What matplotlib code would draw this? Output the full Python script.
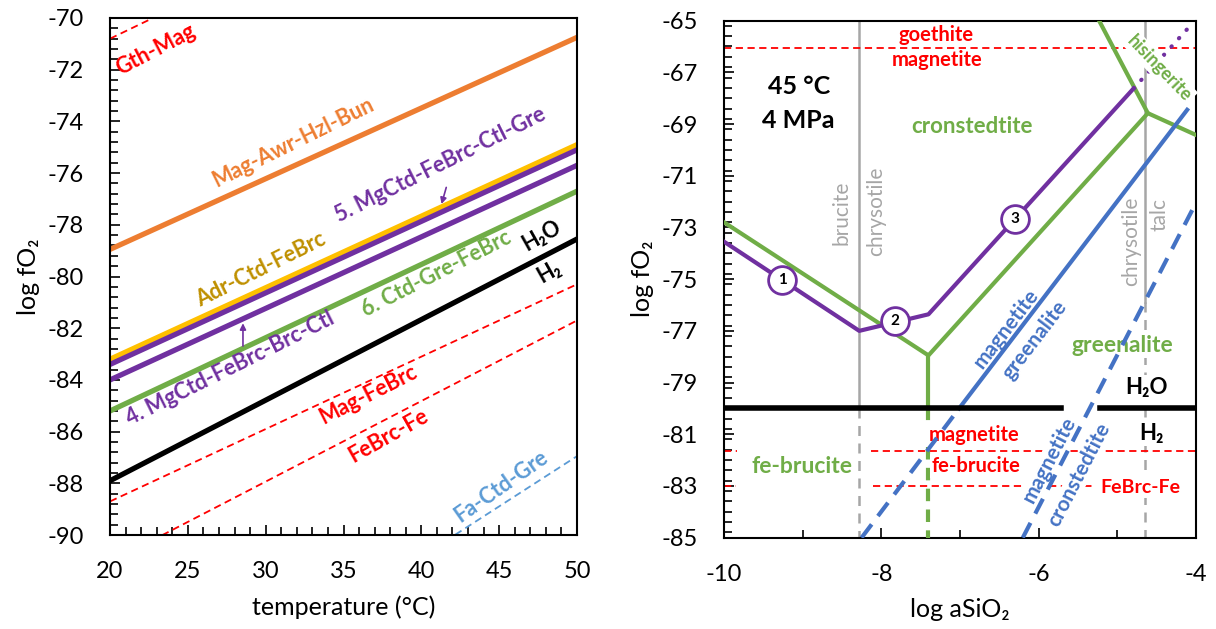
import numpy as np
import matplotlib
matplotlib.use("Agg")
import matplotlib.pyplot as plt
from matplotlib.ticker import MultipleLocator

plt.rcParams['font.family'] = ['Lato', 'DejaVu Sans']
plt.rcParams['axes.unicode_minus'] = False

ORANGE, GOLD, GOLD_TXT = "#ED7D31", "#FFC000", "#BF9000"
PURPLE, GREEN, RED = "#7030A0", "#70AD47", "#FF0000"
BLUE, LBLUE, GRAY = "#4472C4", "#5B9BD5", "#A6A6A6"

# ---- left panel: log fO2 of each reaction at 20 and 50 C (straight lines)
T_ENDS = [20, 50]
gth_mag = [-70.8, -62.1]
mag_awr = [-78.95, -70.75]
adr_ctd = [-83.2, -74.9]
rxn5 = [-83.4, -75.1]
rxn4 = [-84.0, -75.7]
rxn6 = [-85.2, -76.7]
h2o_h2 = [-87.9, -78.55]
mag_febrc = [-88.7, -80.3]
febrc_fe = [-91.05, -81.7]
fa_ctd_gre = [-98.6, -86.95]

# ---- right panel: 45 C, 4 MPa, log fO2 vs log aSiO2
purple_x = [-10, -8.28, -7.40, -4.79]
purple_y = [-73.55, -77.0, -76.36, -67.62]
purple_meta_x = [-4.79, -4.05]
purple_meta_y = [-67.62, -65.13]
green_x = [-10, -7.40, -4.61, -4.0]
green_y = [-72.8, -77.95, -68.58, -69.42]
green_hi_x = [-4.61, -5.23]
green_hi_y = [-68.58, -65.0]
green_v_x = -7.40
green_v_solid = [-77.95, -80.38]
green_v_dash = [-81.5, -85.0]
mgt_gre_x = [-7.01, -4.11]
mgt_gre_y = [-80.0, -68.45]
mgt_gre_meta_x = [-8.25, -7.01]
mgt_gre_meta_y = [-85.0, -80.0]
mgt_ctd_x = [-6.20, -4.0]
mgt_ctd_y = [-85.0, -72.06]
h2o_level = -80.0
h2o_segs = [(-10, -5.71), (-5.22, -4)]
gth_mgt_level = -66.07
mgt_fbrc_level = -81.63
mgt_fbrc_segs = [(-10, -9.83), (-8.13, -4)]
fbrc_fe_level = -83.02
fbrc_fe_segs = [(-10, -9.85), (-8.10, -5.3)]
brc_ctl_x = -8.28
ctl_tlc_x = -4.65
ctl_tlc_solid_to = -75.9
circ_x = [-9.26, -7.83, -6.30]
circ_y = [-75.05, -76.62, -72.66]
circ_lbl = ["1", "2", "3"]

fig = plt.figure(figsize=(12.16, 6.29), dpi=100)
axL = fig.add_axes([0.0905, 0.1494, 0.384, 0.822])
axR = fig.add_axes([0.5954, 0.1452, 0.388, 0.822])

DASH = (0, (4, 2.5))


def style(ax):
    for s in ax.spines.values():
        s.set_linewidth(1.5)
    ax.tick_params(which="both", direction="in", top=False, right=False,
                   labelsize=17, pad=19, width=1.2)
    ax.tick_params(which="major", length=7)
    ax.tick_params(which="minor", length=6)


def rot(x, y):
    return np.degrees(np.arctan((y[1] - y[0]) / (x[1] - x[0])))


# ---------------- left
ax = axL
ax.plot(T_ENDS, gth_mag, color=RED, lw=1.3, ls=DASH)
ax.plot(T_ENDS, mag_awr, color=ORANGE, lw=3.8)
ax.plot(T_ENDS, rxn4, color=PURPLE, lw=3.8)
ax.plot(T_ENDS, adr_ctd, color=GOLD, lw=3.8)
ax.plot(T_ENDS, rxn5, color=PURPLE, lw=3.8)
ax.plot(T_ENDS, rxn6, color=GREEN, lw=3.8)
ax.plot(T_ENDS, h2o_h2, color="black", lw=3.8)
ax.plot(T_ENDS, mag_febrc, color=RED, lw=1.3, ls=DASH)
ax.plot(T_ENDS, febrc_fe, color=RED, lw=1.3, ls=DASH)
ax.plot(T_ENDS, fa_ctd_gre, color=LBLUE, lw=1.3, ls=DASH)
ax.set_xlim(20, 50)
ax.set_ylim(-90, -70)
ax.xaxis.set_major_locator(MultipleLocator(5))
ax.xaxis.set_minor_locator(MultipleLocator(1))
ax.yaxis.set_major_locator(MultipleLocator(2))
ax.yaxis.set_minor_locator(MultipleLocator(0.4))
style(ax)
ax.set_xlabel("temperature (°C)", fontsize=18, labelpad=9)
ax.set_ylabel("log fO₂", fontsize=18, labelpad=5)

left_labels = [
    ("Gth-Mag", 22.94, -71.24, RED, gth_mag),
    ("Mag-Awr-Hzl-Bun", 31.77, -74.83, ORANGE, mag_awr),
    ("5. MgCtd-FeBrc-Ctl-Gre", 41.22, -75.67, PURPLE, rxn5),
    ("Adr-Ctd-FeBrc", 29.69, -79.71, GOLD_TXT, adr_ctd),
    ("6. Ctd-Gre-FeBrc", 40.97, -79.9, GREEN, rxn6),
    ("H₂O", 47.72, -78.42, "black", h2o_h2),
    ("H₂", 48.2, -79.83, "black", h2o_h2),
    ("4. MgCtd-FeBrc-Brc-Ctl", 27.73, -83.55, PURPLE, rxn4),
    ("Mag-FeBrc", 36.56, -84.57, RED, mag_febrc),
    ("FeBrc-Fe", 37.9, -86.18, RED, febrc_fe),
    ("Fa-Ctd-Gre", 45.14, -88.11, LBLUE, fa_ctd_gre),
]
for txt, x, y, c, line in left_labels:
    ax.text(x, y, txt, color=c, fontsize=15.5, fontweight="bold", ha="center",
            va="center", rotation=rot(T_ENDS, line) * 1.08, transform_rotates_text=True,
            rotation_mode="anchor")
ax.annotate("", xy=(41.25, -77.3), xytext=(41.65, -76.45),
            arrowprops=dict(arrowstyle="-|>", color=PURPLE, lw=1.2, mutation_scale=9))
ax.annotate("", xy=(28.54, -81.7), xytext=(28.54, -82.8),
            arrowprops=dict(arrowstyle="-|>", color=PURPLE, lw=1.2, mutation_scale=9))

# ---------------- right
ax = axR
GLW = 1.8
ax.plot([brc_ctl_x, brc_ctl_x], [-65, h2o_level], color=GRAY, lw=GLW, zorder=1)
ax.plot([brc_ctl_x, brc_ctl_x], [h2o_level, -85], color=GRAY, lw=GLW, ls=(0, (4, 3)), zorder=1)
ax.plot([ctl_tlc_x, ctl_tlc_x], [-65, ctl_tlc_solid_to], color=GRAY, lw=GLW, zorder=1)
ax.plot([ctl_tlc_x, ctl_tlc_x], [ctl_tlc_solid_to, -85], color=GRAY, lw=GLW, ls=(0, (4, 3)), zorder=1)

ax.axhline(gth_mgt_level, color=RED, lw=1.3, ls=DASH, zorder=2)
for a, b in mgt_fbrc_segs:
    ax.plot([a, b], [mgt_fbrc_level] * 2, color=RED, lw=1.3, ls=DASH, zorder=2)
for a, b in fbrc_fe_segs:
    ax.plot([a, b], [fbrc_fe_level] * 2, color=RED, lw=1.3, ls=DASH, zorder=2)

ax.plot(green_x, green_y, color=GREEN, lw=3, zorder=3)
ax.plot(green_hi_x, green_hi_y, color=GREEN, lw=3, zorder=3)
ax.plot([green_v_x] * 2, green_v_solid, color=GREEN, lw=3, zorder=3)
ax.plot([green_v_x] * 2, green_v_dash, color=GREEN, lw=3, ls=(0, (3, 2)), zorder=3)
ax.plot(mgt_gre_x, mgt_gre_y, color=BLUE, lw=3, zorder=3)
ax.plot(mgt_gre_meta_x, mgt_gre_meta_y, color=BLUE, lw=3, ls=DASH, zorder=6)
ax.plot(mgt_ctd_x, mgt_ctd_y, color=BLUE, lw=3, ls=DASH, zorder=6)
ax.plot(purple_x, purple_y, color=PURPLE, lw=3, zorder=3)
ax.plot(purple_meta_x, purple_meta_y, color=PURPLE, lw=3, ls=(0, (0.1, 2.6)),
        dash_capstyle="round", zorder=3)
for a, b in h2o_segs:
    ax.plot([a, b], [h2o_level] * 2, color="black", lw=4, zorder=5)
ax.plot(circ_x, circ_y, "o", ms=20, mfc="white", mec=PURPLE, mew=2, zorder=7)
for x, y, t in zip(circ_x, circ_y, circ_lbl):
    ax.text(x, y, t, fontsize=11, fontweight="bold", ha="center", va="center", zorder=8)

ax.set_xlim(-10, -4)
ax.set_ylim(-85, -65)
ax.xaxis.set_major_locator(MultipleLocator(2))
ax.xaxis.set_minor_locator(MultipleLocator(1))
ax.set_yticks(np.arange(-85, -64, 2))
ax.yaxis.set_minor_locator(MultipleLocator(0.4))
style(ax)
ax.set_xlabel("log aSiO₂", fontsize=18, labelpad=9)
ax.set_ylabel("log fO₂", fontsize=18, labelpad=5)

wb = dict(facecolor="white", edgecolor="none", pad=1.5)
big = dict(fontweight="bold", ha="center", va="center")
ax.text(-9.04, -67.53, "45 °C", fontsize=18, **big)
ax.text(-9.06, -68.87, "4 MPa", fontsize=18, **big)
ax.text(-7.30, -65.55, "goethite", color=RED, fontsize=14.5, **big)
ax.text(-7.29, -66.52, "magnetite", color=RED, fontsize=14.5, **big)
ax.text(-6.84, -69.10, "cronstedtite", color=GREEN, fontsize=16, **big)
ax.text(-4.46, -66.84, "hisingerite", color=GREEN, fontsize=13, rotation=-46,
        bbox=wb, zorder=4, **big)
for x, y, t in [(-8.50, -72.45, "brucite"), (-8.07, -72.38, "chrysotile"),
                (-4.82, -73.54, "chrysotile"), (-4.46, -72.51, "talc")]:
    ax.text(x, y, t, color=GRAY, fontsize=15, ha="center", va="center", rotation=90)
for x, y, t in [(-6.41, -76.90, "magnetite"), (-6.05, -77.36, "greenalite")]:
    ax.text(x, y, t, color=BLUE, fontsize=15, rotation=rot(mgt_gre_x, mgt_gre_y),
            transform_rotates_text=True, rotation_mode="anchor", **big)
ax.text(-4.94, -77.55, "greenalite", color=GREEN, fontsize=16.5, bbox=wb, zorder=4, **big)
ax.text(-4.63, -79.19, "H₂O", fontsize=16, bbox=wb, zorder=4, **big)
ax.text(-4.56, -80.96, "H₂", fontsize=16, bbox=wb, zorder=4, **big)
ax.text(-6.82, -81.03, "magnetite", color=RED, fontsize=14.5, bbox=wb, zorder=4, **big)
ax.text(-6.79, -82.21, "fe-brucite", color=RED, fontsize=14.5, bbox=wb, zorder=4, **big)
ax.text(-4.71, -83.06, "FeBrc-Fe", color=RED, fontsize=14, bbox=wb, zorder=4, **big)
ax.text(-9.01, -82.25, "fe-brucite", color=GREEN, fontsize=16.5, **big)
for x, y, t in [(-5.86, -82.0, "magnetite"), (-5.48, -82.58, "cronstedtite")]:
    ax.text(x, y, t, color=BLUE, fontsize=15, rotation=rot(mgt_ctd_x, mgt_ctd_y),
            transform_rotates_text=True, rotation_mode="anchor",
            bbox=dict(facecolor="white", edgecolor="none", pad=0.5), zorder=4, **big)

fig.savefig("out.png", dpi=100)
